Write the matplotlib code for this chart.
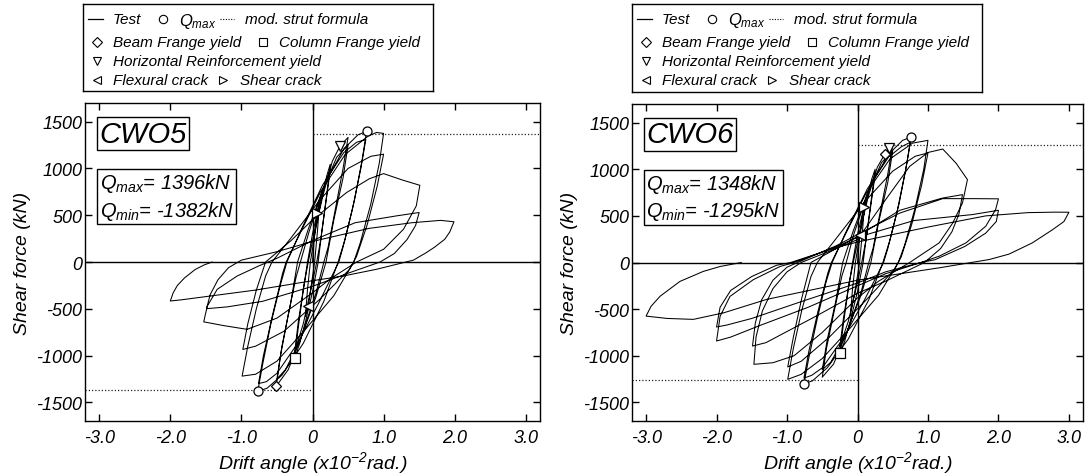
import matplotlib
matplotlib.use('Agg')
import matplotlib.pyplot as plt

plt.rcParams['font.family'] = ['Liberation Sans', 'DejaVu Sans']
plt.rcParams['font.style'] = 'italic'
plt.rcParams['mathtext.fontset'] = 'custom'
plt.rcParams['mathtext.it'] = 'Liberation Sans:italic'
plt.rcParams['mathtext.rm'] = 'Liberation Sans:italic'
plt.rcParams['mathtext.sf'] = 'Liberation Sans:italic'

# ---------------- data ----------------
x_ticks = [-3, -2, -1, 0, 1, 2, 3]
x_tick_labels = ['-3.0', '-2.0', '-1.0', '0', '1.0', '2.0', '3.0']
y_ticks = [-1500, -1000, -500, 0, 500, 1000, 1500]
y_tick_labels = ['-1500', '-1000', '-500', '0', '500', '1000', '1500']

# CWO5 hysteresis (drift x10^-2 rad, shear kN)
cwo5_drift = [
    0, 0.03, 0.07, 0.1, 0.07, 0.03, -0.02, -0.06, -0.1, -0.07, -0.03,
    0.04, 0.12, 0.2, 0.25, 0.2, 0.13, 0.08, 0.0, -0.1, -0.18, -0.25, -0.2, -0.13, -0.07,
    0.0, 0.1, 0.19, 0.25, 0.19, 0.12, 0.06, -0.03, -0.13, -0.25, -0.2, -0.12, -0.06,
    0.03, 0.15, 0.28, 0.39, 0.5, 0.43, 0.32, 0.22, 0.16, 0.05, -0.14, -0.34, -0.51, -0.45, -0.34, -0.23, -0.17,
    -0.05, 0.14, 0.34, 0.5, 0.43, 0.3, 0.19, 0.05, -0.18, -0.38, -0.5, -0.43, -0.31, -0.21,
    -0.06, 0.18, 0.44, 0.64, 0.76, 0.7, 0.59, 0.46, 0.36, 0.16, -0.13, -0.43, -0.64, -0.77, -0.7, -0.58, -0.45, -0.36,
    -0.15, 0.14, 0.44, 0.62, 0.75, 0.68, 0.56, 0.43, 0.37, 0.1, -0.2, -0.5, -0.65, -0.76, -0.69, -0.56, -0.42, -0.37,
    -0.16, 0.12, 0.46, 0.78, 0.9, 1.0, 0.94, 0.82, 0.67, 0.58, 0.3, -0.1, -0.5, -0.8, -0.99, -0.91, -0.79, -0.66, -0.57,
    -0.3, 0.1, 0.5, 0.82, 1.0, 0.91, 0.77, 0.62, 0.52, 0.1, -0.4, -0.8, -0.98, -0.91, -0.79, -0.66,
    -0.3, 0.0, 0.48, 0.8, 1.0, 1.25, 1.51, 1.46, 1.28, 1.0, 0.62, 0.25, 0.0, -0.5, -0.92, -1.25, -1.53, -1.48, -1.34, -1.06, -0.75, -0.5,
    0.0, 0.6, 1.18, 1.5, 1.45, 1.33, 1.15, 0.95, 0.5, 0.0, -0.7, -1.2, -1.49, -1.44, -1.33, -1.18, -1.0,
    -0.5, 0.0, 0.8, 1.4, 1.8, 1.99, 1.93, 1.86, 1.72, 1.6, 1.42, 0.9, 0.43, 0.0, -0.8, -1.5, -1.85, -2.0, -1.96, -1.9, -1.8, -1.65, -1.52, -1.41,
]
cwo5_shear = [
    0, 300, 529, 640, 330, 0, -260, -475, -580, -290, 0,
    330, 650, 920, 1046, 720, 320, 0, -320, -640, -870, -1024, -700, -300, 0,
    300, 640, 870, 980, 650, 260, 0, -320, -660, -960, -640, -250, 0,
    330, 720, 1080, 1243, 1332, 1000, 560, 160, 0, -330, -760, -1150, -1327, -1000, -560, -160, 0,
    320, 760, 1120, 1250, 900, 450, 0, -370, -850, -1150, -1250, -900, -450, 0,
    350, 850, 1210, 1360, 1396, 1100, 660, 250, 0, -420, -870, -1210, -1350, -1382, -1090, -640, -240, 0,
    360, 820, 1170, 1280, 1310, 1000, 560, 160, 0, -420, -860, -1190, -1280, -1300, -1000, -560, -120, 0,
    330, 760, 1150, 1345, 1385, 1375, 1060, 620, 200, 0, -360, -720, -1060, -1200, -1220, -900, -500, -150, 0,
    260, 660, 1000, 1130, 1153, 810, 400, 60, -80, -400, -740, -900, -935, -660, -300, 0,
    230, 450, 743, 890, 945, 880, 820, 600, 350, 136, 0, -180, -330, -600, -720, -680, -640, -471, -292, -150, -40, 40,
    230, 420, 493, 529, 390, 240, 90, 0, -120, -260, -420, -480, -499, -350, -190, -60, 20,
    110, 220, 360, 420, 445, 430, 320, 243, 160, 100, 20, -78, -150, -200, -300, -370, -405, -417, -330, -250, -170, -80, -30, 0,
]

# CWO6 hysteresis
cwo6_drift = [
    0, 0.03, 0.09, 0.1, 0.07, 0.03, -0.03, -0.1, -0.07, -0.03,
    0.04, 0.12, 0.2, 0.25, 0.2, 0.13, 0.08, 0.0, -0.1, -0.18, -0.25, -0.2, -0.13, -0.07,
    0.0, 0.1, 0.19, 0.25, 0.19, 0.12, 0.06, -0.03, -0.13, -0.25, -0.2, -0.12, -0.06,
    0.03, 0.15, 0.28, 0.39, 0.45, 0.5, 0.43, 0.32, 0.22, 0.16, 0.05, -0.14, -0.34, -0.5, -0.44, -0.33, -0.22, -0.16,
    -0.05, 0.14, 0.34, 0.5, 0.43, 0.3, 0.19, 0.05, -0.18, -0.38, -0.5, -0.43, -0.31, -0.21,
    -0.06, 0.18, 0.44, 0.64, 0.76, 0.7, 0.59, 0.46, 0.36, 0.16, -0.13, -0.43, -0.64, -0.76, -0.69, -0.57, -0.45, -0.36,
    -0.15, 0.14, 0.44, 0.62, 0.75, 0.68, 0.56, 0.43, 0.37, 0.1, -0.2, -0.5, -0.65, -0.76, -0.69, -0.56, -0.42, -0.37,
    -0.16, 0.12, 0.46, 0.78, 1.0, 0.94, 0.82, 0.67, 0.58, 0.3, -0.1, -0.5, -0.8, -0.99, -0.91, -0.79, -0.66, -0.57,
    -0.3, 0.1, 0.5, 0.82, 1.0, 0.91, 0.77, 0.62, 0.52, 0.1, -0.4, -0.8, -0.99, -0.91, -0.79, -0.66,
    -0.3, 0.0, 0.4, 0.74, 1.0, 1.21, 1.4, 1.56, 1.49, 1.35, 1.16, 0.74, 0.3, 0.0, -0.5, -0.9, -1.2, -1.47, -1.44, -1.35, -1.2, -1.0, -0.8,
    -0.3, 0.0, 0.6, 1.2, 1.49, 1.44, 1.34, 1.18, 0.95, 0.4, 0.0, -0.6, -1.1, -1.3, -1.49, -1.45, -1.36, -1.2, -1.0, -0.85,
    -0.3, 0.0, 0.6, 1.21, 1.63, 2.0, 1.96, 1.82, 1.54, 1.16, 0.9, 0.4, 0.0, -0.7, -1.4, -1.8, -2.0, -1.95, -1.81, -1.48, -1.1, -0.9,
    -0.3, 0.0, 0.8, 1.63, 2.0, 1.97, 1.82, 1.52, 1.1, 0.9, 0.4, 0.0, -0.8, -1.5, -1.85, -2.0, -1.95, -1.8, -1.5, -1.15, -0.95,
    -0.3, 0.0, 1.0, 1.82, 2.42, 2.8, 3.0, 2.93, 2.77, 2.48, 2.15, 1.87, 1.16, 0.0, -1.29, -1.9, -2.33, -2.7, -3.0, -2.93, -2.8, -2.52, -2.19, -1.95, -1.65,
]
cwo6_shear = [
    0, 300, 592, 630, 330, 0, -280, -560, -280, 0,
    320, 640, 890, 1000, 700, 300, 0, -310, -620, -840, -975, -660, -280, 0,
    300, 620, 840, 940, 620, 240, 0, -310, -630, -900, -600, -230, 0,
    320, 700, 1020, 1167, 1228, 1270, 950, 530, 150, 0, -320, -730, -1090, -1230, -920, -520, -140, 0,
    310, 730, 1070, 1200, 860, 430, 0, -350, -800, -1070, -1150, -830, -420, 0,
    340, 820, 1160, 1310, 1346, 1060, 630, 240, 0, -400, -820, -1130, -1270, -1300, -1020, -600, -220, 0,
    350, 790, 1130, 1240, 1290, 980, 540, 150, 0, -400, -810, -1130, -1210, -1240, -950, -520, -110, 0,
    320, 740, 1110, 1280, 1310, 1000, 590, 190, 0, -350, -700, -1030, -1200, -1253, -920, -510, -150, 0,
    260, 650, 980, 1140, 1175, 830, 410, 60, -80, -420, -800, -1060, -1120, -800, -380, 0,
    150, 246, 675, 1031, 1180, 1217, 1064, 889, 639, 422, 211, 0, -200, -380, -750, -1000, -1075, -1092, -800, -520, -280, -100, 0,
    150, 280, 560, 690, 728, 520, 330, 150, 0, -200, -330, -580, -780, -860, -896, -650, -400, -190, -50, 0,
    180, 300, 530, 685, 685, 683, 567, 389, 211, 68, 0, -120, -250, -480, -680, -800, -842, -578, -364, -185, -43, 0,
    170, 270, 450, 514, 560, 440, 315, 171, 30, 0, -100, -220, -420, -600, -670, -692, -480, -300, -150, -30, 0,
    160, 220, 380, 500, 535, 540, 539, 440, 353, 210, 90, 32, -57, -190, -396, -540, -610, -600, -575, -470, -361, -203, -96, -43, 0,
]

panels = [
    dict(name='CWO5', drift=cwo5_drift, shear=cwo5_shear, strut=1370,
         qmax='1396', qmin='-1382',
         qmax_pts=([0.76, -0.77], [1396, -1382]),
         beam_pts=([-0.51], [-1327]),
         col_pts=([-0.25], [-1024]),
         hor_pts=([0.39], [1243]),
         flex_pts=([-0.06], [-475]),
         shear_pts=([0.07], [529])),
    dict(name='CWO6', drift=cwo6_drift, shear=cwo6_shear, strut=1265,
         qmax='1348', qmin='-1295',
         qmax_pts=([0.76, -0.76], [1346, -1300]),
         beam_pts=([0.39], [1167]),
         col_pts=([-0.25], [-975]),
         hor_pts=([0.45], [1228]),
         flex_pts=([0.03], [300]),
         shear_pts=([0.09], [592])),
]

# ---------------- figure ----------------
W, H = 1088, 477
fig = plt.figure(figsize=(W / 100, H / 100), dpi=100)


def px_axes(x0, y0, x1, y1):
    return fig.add_axes([x0 / W, 1 - y1 / H, (x1 - x0) / W, (y1 - y0) / H])


axes_px = [(85, 104, 540, 422), (632, 105, 1083, 422)]
legend_px = [(83, 5, 433, 92), (632, 5, 982, 93)]

mk = dict(linestyle='none', mfc='white', mec='black', mew=0.9, zorder=5)

for p, apx, lpx in zip(panels, axes_px, legend_px):
    ax = px_axes(*apx)
    ax.set_xlim(-3.2, 3.2)
    ax.set_ylim(-1700, 1700)
    ax.axhline(0, color='black', lw=1.0, zorder=1)
    ax.axvline(0, color='black', lw=1.0, zorder=1)
    ax.plot([0, 3.2], [p['strut'], p['strut']], color='#222222', lw=0.9,
            linestyle=(0, (1, 1.6)), zorder=2)
    ax.plot([-3.2, 0], [-p['strut'], -p['strut']], color='#222222', lw=0.9,
            linestyle=(0, (1, 1.6)), zorder=2)
    ax.plot(p['drift'], p['shear'], color='black', lw=0.75, zorder=3)
    ax.plot(*p['qmax_pts'], marker='o', ms=6.5, **mk)
    ax.plot(*p['beam_pts'], marker='D', ms=5.0, **mk)
    ax.plot(*p['col_pts'], marker='s', ms=6.5, **mk)
    ax.plot(*p['hor_pts'], marker='v', ms=6.5, **mk)
    ax.plot(*p['flex_pts'], marker='<', ms=6.5, **mk)
    ax.plot(*p['shear_pts'], marker='>', ms=6.5, **mk)

    ax.set_xticks(x_ticks)
    ax.set_xticklabels(x_tick_labels)
    ax.set_yticks(y_ticks)
    ax.set_yticklabels(y_tick_labels)
    ax.tick_params(direction='in', top=True, right=True, length=5, width=1,
                   labelsize=13)
    ax.tick_params(axis='x', pad=6)
    ax.tick_params(axis='y', pad=2)
    for s in ax.spines.values():
        s.set_linewidth(1.0)
    ax.set_xlabel(r'Drift angle (x10$^{-2}$rad.)', fontsize=14, labelpad=2)
    ax.set_ylabel('Shear force (kN)', fontsize=14, labelpad=4)

    ax.text(0.032, 0.948, p['name'], transform=ax.transAxes, fontsize=21,
            ha='left', va='top',
            bbox=dict(boxstyle='square,pad=0.08', fc='white', ec='black', lw=1))
    ax.text(0.032, 0.785,
            r'$Q_{max}$= ' + p['qmax'] + 'kN\n' + r'$Q_{min}$= ' + p['qmin'] + 'kN',
            transform=ax.transAxes, fontsize=14.5, ha='left', va='top', linespacing=1.25,
            bbox=dict(boxstyle='square,pad=0.12', fc='white', ec='black', lw=1))

    # legend box
    lg = px_axes(*lpx)
    lg.set_xlim(0, lpx[2] - lpx[0])
    lg.set_ylim(lpx[3] - lpx[1], 0)
    lg.set_xticks([])
    lg.set_yticks([])
    for s in lg.spines.values():
        s.set_linewidth(1.0)
    fs = 11
    lmk = dict(linestyle='none', mfc='white', mec='black', mew=0.8)
    y1, y2, y3, y4 = 15, 38, 57, 76
    lg.plot([5, 20], [y1, y1], color='black', lw=0.9)
    lg.text(30, y1, 'Test', fontsize=fs, va='center')
    lg.plot([80], [y1], marker='o', ms=6, **lmk)
    lg.text(96, y1 + 1, r'$Q_{max}$', fontsize=12, va='center')
    lg.plot([137, 151], [y1, y1], color='black', lw=0.8, linestyle=(0, (1, 1.4)))
    lg.text(162, y1, 'mod. strut formula', fontsize=fs, va='center')
    lg.plot([14], [y2], marker='D', ms=5, **lmk)
    lg.text(30, y2, 'Beam Frange yield', fontsize=fs, va='center')
    lg.plot([180], [y2], marker='s', ms=6, **lmk)
    lg.text(196, y2, 'Column Frange yield', fontsize=fs, va='center')
    lg.plot([14], [y3], marker='v', ms=6, **lmk)
    lg.text(30, y3, 'Horizontal Reinforcement yield', fontsize=fs, va='center')
    lg.plot([14], [y4], marker='<', ms=6, **lmk)
    lg.text(30, y4, 'Flexural crack', fontsize=fs, va='center')
    lg.plot([140], [y4], marker='>', ms=6, **lmk)
    lg.text(157, y4, 'Shear crack', fontsize=fs, va='center')

fig.savefig('out.png', dpi=100)
